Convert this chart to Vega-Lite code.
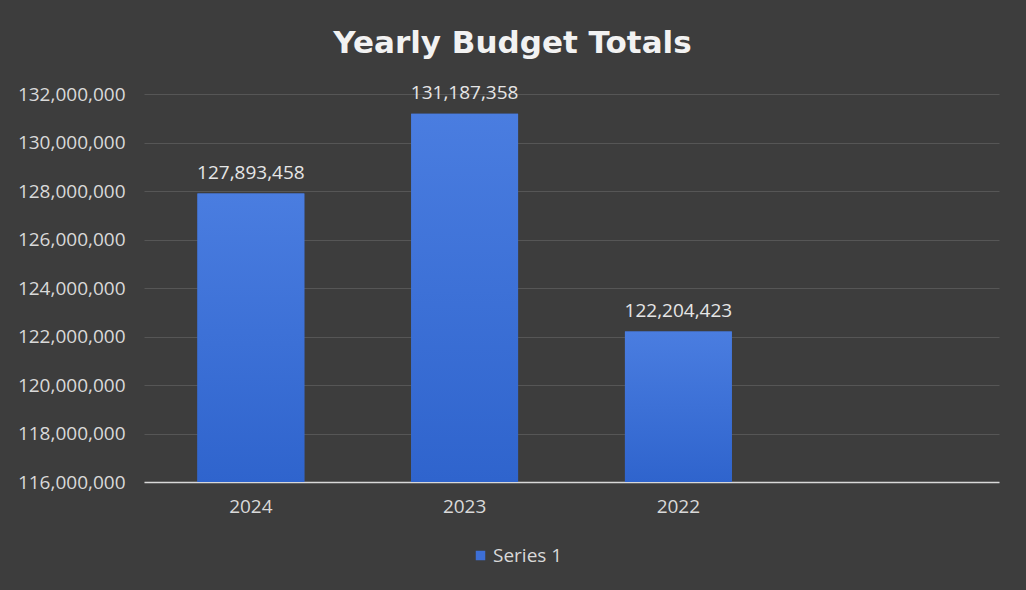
{
  "$schema": "https://vega.github.io/schema/vega-lite/v6.json",
  "autosize": "none",
  "width": 855,
  "height": 388,
  "padding": {"left": 144, "top": 94, "right": 27, "bottom": 108},
  "background": "#3d3d3d",
  "title": {
    "text": "Yearly Budget Totals",
    "font": "DejaVu Sans",
    "fontSize": 31,
    "fontWeight": "bold",
    "color": "#f2f2f2",
    "anchor": "middle",
    "frame": "group",
    "dx": -59,
    "offset": 24
  },
  "config": {
    "view": {"stroke": null},
    "font": "Open Sans"
  },
  "data": {
    "values": [
      {"year": "2024", "total": 127893458, "series": "Series 1"},
      {"year": "2023", "total": 131187358, "series": "Series 1"},
      {"year": "2022", "total": 122204423, "series": "Series 1"}
    ]
  },
  "encoding": {
    "x": {
      "field": "year",
      "type": "nominal",
      "sort": null,
      "scale": {"domain": ["2024", "2023", "2022", " "], "paddingInner": 0.5, "paddingOuter": 0.25},
      "axis": {
        "title": null,
        "labelAngle": 0,
        "ticks": false,
        "tickSize": 0,
        "labelPadding": 15,
        "labelFontSize": 19,
        "labelColor": "#d9d9d9",
        "domainColor": "#d9d9d9",
        "domainWidth": 1.5,
        "grid": false
      }
    }
  },
  "layer": [
    {
      "mark": {"type": "bar"},
      "encoding": {
        "y": {
          "field": "total",
          "type": "quantitative",
          "scale": {"domain": [116000000, 132000000], "zero": false, "nice": false},
          "axis": {
            "title": null,
            "values": [116000000, 118000000, 120000000, 122000000, 124000000, 126000000, 128000000, 130000000, 132000000],
            "format": ",d",
            "domain": false,
            "ticks": false,
            "tickSize": 0,
            "labelPadding": 19,
            "labelFontSize": 19,
            "labelColor": "#d9d9d9",
            "grid": true,
            "gridColor": "#565656",
            "gridWidth": 1
          }
        },
        "y2": {"datum": 116000000},
        "color": {
          "field": "series",
          "type": "nominal",
          "scale": {"range": ["#3d6fd6"]},
          "legend": {
            "title": null,
            "orient": "none",
            "legendX": 327,
            "legendY": 452,
            "symbolType": "square",
            "symbolSize": 90,
            "symbolStrokeWidth": 0,
            "labelColor": "#d9d9d9",
            "labelFontSize": 19,
            "labelOffset": 3
          }
        }
      }
    },
    {
      "mark": {
        "type": "bar",
        "color": {
          "x1": 0, "y1": 0, "x2": 0, "y2": 1,
          "gradient": "linear",
          "stops": [
            {"offset": 0, "color": "#4a7de0"},
            {"offset": 1, "color": "#2f64cd"}
          ]
        }
      },
      "encoding": {
        "y": {"field": "total", "type": "quantitative"},
        "y2": {"datum": 116000000}
      }
    },
    {
      "mark": {"type": "text", "baseline": "bottom", "dy": -11, "fontSize": 19, "color": "#e6e6e6"},
      "encoding": {
        "y": {"field": "total", "type": "quantitative"},
        "text": {"field": "total", "type": "quantitative", "format": ",d"}
      }
    }
  ]
}
